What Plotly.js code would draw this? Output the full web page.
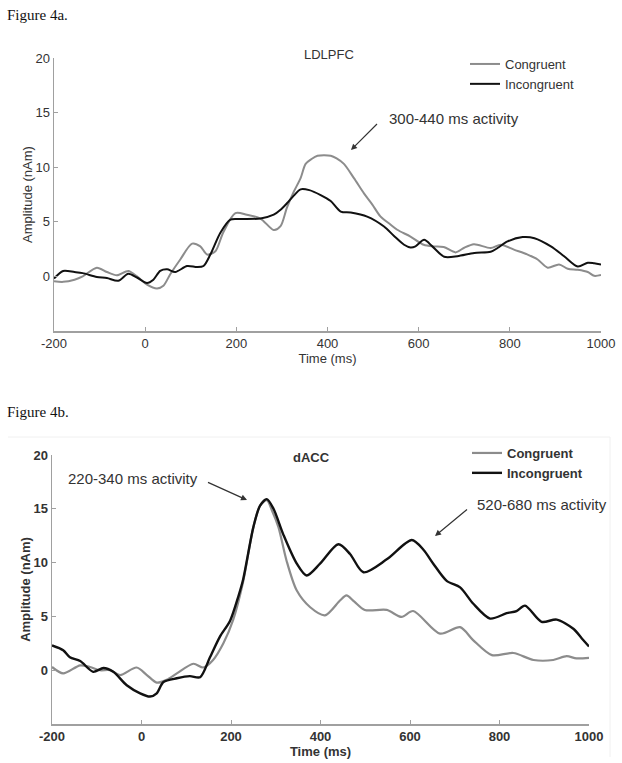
<!DOCTYPE html>
<html><head><meta charset="utf-8">
<script src="https://cdn.plot.ly/plotly-3.0.1.min.js"></script>
<style>html,body{margin:0;padding:0;background:#fff}#chart{width:622px;height:763px}</style>
</head><body><div id="chart"></div>
<script>
// ---- Figure 4a (LDLPFC) ----
const timeA_cong = [-200,-180,-155,-137,-106,-84,-62,-37,-18,4,26,40,55,77,103,121,136,154,171,198,223,253,282,297,311,326,341,352,365,378,392,407,420,436,458,480,498,516,538,553,582,611,633,655,681,699,721,758,780,809,839,861,883,908,927,949,971,985,1000];
const ampA_cong  = [-0.45,-0.5,-0.3,0.0,0.8,0.4,0.1,0.5,0.0,-0.75,-1.1,-0.85,0.2,1.55,3.0,2.75,2.0,2.3,4.0,5.8,5.65,5.3,4.25,4.6,6.3,7.75,9.0,10.3,10.75,11.05,11.1,11.05,10.8,10.3,9.0,7.6,6.6,5.5,4.75,4.27,3.65,2.9,2.75,2.7,2.2,2.6,2.95,2.6,2.9,2.45,2.0,1.55,0.8,1.1,0.7,0.6,0.4,0.05,0.12];
const timeA_inc  = [-200,-180,-155,-137,-106,-84,-59,-37,-18,4,18,33,48,66,92,114,128,143,165,187,209,253,282,297,311,326,341,360,385,407,429,451,487,524,546,568,582,593,612,630,656,685,722,758,773,795,828,854,890,919,949,971,985,1000];
const ampA_inc   = [-0.2,0.5,0.4,0.3,-0.05,-0.15,-0.4,0.25,-0.1,-0.6,-0.3,0.5,0.65,0.4,0.95,0.85,0.95,2.0,4.0,5.2,5.25,5.3,5.65,6.1,6.7,7.4,7.97,7.9,7.45,6.9,5.94,5.85,5.48,4.57,3.7,2.9,2.65,2.75,3.35,2.75,1.8,1.85,2.15,2.25,2.6,3.2,3.6,3.5,2.75,1.85,0.9,1.25,1.2,1.1];

// ---- Figure 4b (dACC) ----
const timeB_cong = [-200,-175,-137,-115,-93,-70,-48,-11,12,34,56,79,116,138,160,183,205,227,250,265,280,292,306,324,347,377,410,444,458,475,499,548,581,607,667,712,741,783,831,876,920,950,972,1000];
const ampB_cong  = [0.3,-0.3,0.45,0.3,0.0,0.0,-0.45,0.25,-0.45,-1.15,-0.9,-0.3,0.6,0.25,0.95,2.5,4.7,8.2,13.3,15.3,15.8,14.8,13.3,10.2,7.4,5.85,5.1,6.5,6.95,6.4,5.6,5.6,4.95,5.5,3.4,4.0,2.8,1.4,1.6,0.95,0.95,1.3,1.1,1.15];
const timeB_inc  = [-200,-175,-160,-137,-108,-85,-63,-33,-3,19,34,49,79,108,131,153,175,198,216,227,250,265,280,295,317,347,369,399,440,466,496,548,604,630,652,682,712,741,779,816,838,857,894,928,965,984,1000];
const ampB_inc   = [2.3,1.85,1.2,0.85,-0.15,0.2,-0.15,-1.4,-2.15,-2.45,-2.15,-1.1,-0.75,-0.55,-0.65,1.2,3.1,4.6,6.8,8.4,13.3,15.3,15.9,15.0,12.6,9.9,8.8,9.9,11.7,10.8,9.1,10.3,12.1,11.2,9.9,8.3,7.7,6.2,4.8,5.3,5.5,6.0,4.5,4.7,3.85,2.95,2.2];

const xTicks = [-200,0,200,400,600,800,1000];
const xTickText = ['-200','0','200','400','600','800','1000'];
const yTicks = [0,5,10,15,20];
const seriesNames = ['Congruent','Incongruent'];

const W = 622, H = 763;
const px = v => v / W;
const py = v => 1 - v / H;
const FONT = 'Liberation Sans, Arial, sans-serif';
const GRAY = '#8c8c8c', BLACK = '#111111', AX = '#a0a0a0', TXT = '#333333';

function line(x, y, name, color, width, xa, ya, leg) {
  return {x, y, name, type: 'scatter', mode: 'lines', xaxis: xa, yaxis: ya, legend: leg,
    line: {color, width, shape: 'spline', smoothing: 0.8}};
}

const traces = [
  line(timeA_cong, ampA_cong, seriesNames[0], GRAY, 2, 'x', 'y', 'legend'),
  line(timeA_inc, ampA_inc, seriesNames[1], BLACK, 2, 'x', 'y', 'legend'),
  line(timeB_cong, ampB_cong, seriesNames[0], GRAY, 2.2, 'x2', 'y2', 'legend2'),
  line(timeB_inc, ampB_inc, seriesNames[1], BLACK, 2.4, 'x2', 'y2', 'legend2')
];

function xax(domain, anchor, bold) {
  return {domain, anchor, range: [-200, 1000], tickvals: xTicks, ticktext: xTickText, ticks: 'inside', ticklen: 4,
    tickcolor: AX, tickwidth: 1, showline: true, linecolor: AX, linewidth: 1.5, showgrid: false, zeroline: false,
    tickfont: {family: FONT, size: 13, color: TXT, weight: bold ? 'bold' : 'normal'},
    title: {text: 'Time (ms)', font: {family: FONT, size: 13, color: TXT, weight: bold ? 'bold' : 'normal'}, standoff: 0},
    fixedrange: true};
}
function yax(domain, anchor, bold) {
  return {domain, anchor, range: [-5, 20], tickvals: yTicks, ticks: 'inside', ticklen: 4,
    tickcolor: AX, tickwidth: 1, showline: true, linecolor: AX, linewidth: 1.5, showgrid: false, zeroline: false,
    tickfont: {family: FONT, size: 13, color: TXT, weight: bold ? 'bold' : 'normal'},
    title: {text: 'Amplitude (nAm)', font: {family: FONT, size: 13, color: TXT, weight: bold ? 'bold' : 'normal'}, standoff: 0},
    fixedrange: true};
}

const annText = (text, x, y, opts) => Object.assign({text, xref: 'paper', yref: 'paper', x: px(x), y: py(y),
  xanchor: 'left', yanchor: 'middle', showarrow: false, font: {family: FONT, size: 15, color: TXT}}, opts || {});
const arrow = (hx, hy, tx, ty) => ({text: ' ', xref: 'paper', yref: 'paper', x: px(hx), y: py(hy),
  ax: tx - hx, ay: ty - hy, showarrow: true, arrowhead: 2, arrowsize: 1, arrowwidth: 1.2, arrowcolor: TXT, standoff: 0, startstandoff: 0});

const layout = {
  width: W, height: H, margin: {l: 0, r: 0, t: 0, b: 0},
  paper_bgcolor: '#fff', plot_bgcolor: 'rgba(0,0,0,0)',
  xaxis: xax([px(54), px(601)], 'y', false),
  yaxis: yax([py(331), py(58)], 'x', false),
  xaxis2: xax([px(52), px(589)], 'y2', true),
  yaxis2: yax([py(724), py(455)], 'x2', true),
  showlegend: true,
  legend: {x: px(465), y: py(49), xanchor: 'left', yanchor: 'top', bgcolor: 'rgba(0,0,0,0)', itemwidth: 30,
    font: {family: FONT, size: 13, color: TXT}, tracegroupgap: 0},
  legend2: {x: px(467), y: py(438), xanchor: 'left', yanchor: 'top', bgcolor: 'rgba(0,0,0,0)', itemwidth: 30,
    font: {family: FONT, size: 13, color: TXT, weight: 'bold'}, tracegroupgap: 0},
  shapes: [
    {type: 'line', xref: 'paper', yref: 'paper', x0: px(8), x1: px(610), y0: py(437), y1: py(437), line: {color: '#f0f0f0', width: 1}},
    {type: 'line', xref: 'paper', yref: 'paper', x0: px(610), x1: px(610), y0: py(437), y1: py(757), line: {color: '#f0f0f0', width: 1}}
  ],
  annotations: [
    annText('Figure 4a.', 5, 15, {font: {family: 'Liberation Serif, Times New Roman, serif', size: 15, color: '#111'}}),
    annText('Figure 4b.', 5, 412, {font: {family: 'Liberation Serif, Times New Roman, serif', size: 15, color: '#111'}}),
    annText('LDLPFC', 329, 55, {xanchor: 'center', font: {family: FONT, size: 13, color: TXT}}),
    annText('dACC', 311, 457, {xanchor: 'center', font: {family: FONT, size: 13, color: TXT, weight: 'bold'}}),
    annText('300-440 ms activity', 387, 118),
    arrow(351, 150, 380, 121),
    annText('220-340 ms activity', 66, 478),
    arrow(247, 500, 205, 481),
    annText('520-680 ms activity', 475, 504),
    arrow(435, 536, 470, 507)
  ]
};

Plotly.newPlot('chart', traces, layout, {displayModeBar: false, staticPlot: true});
</script></body></html>
